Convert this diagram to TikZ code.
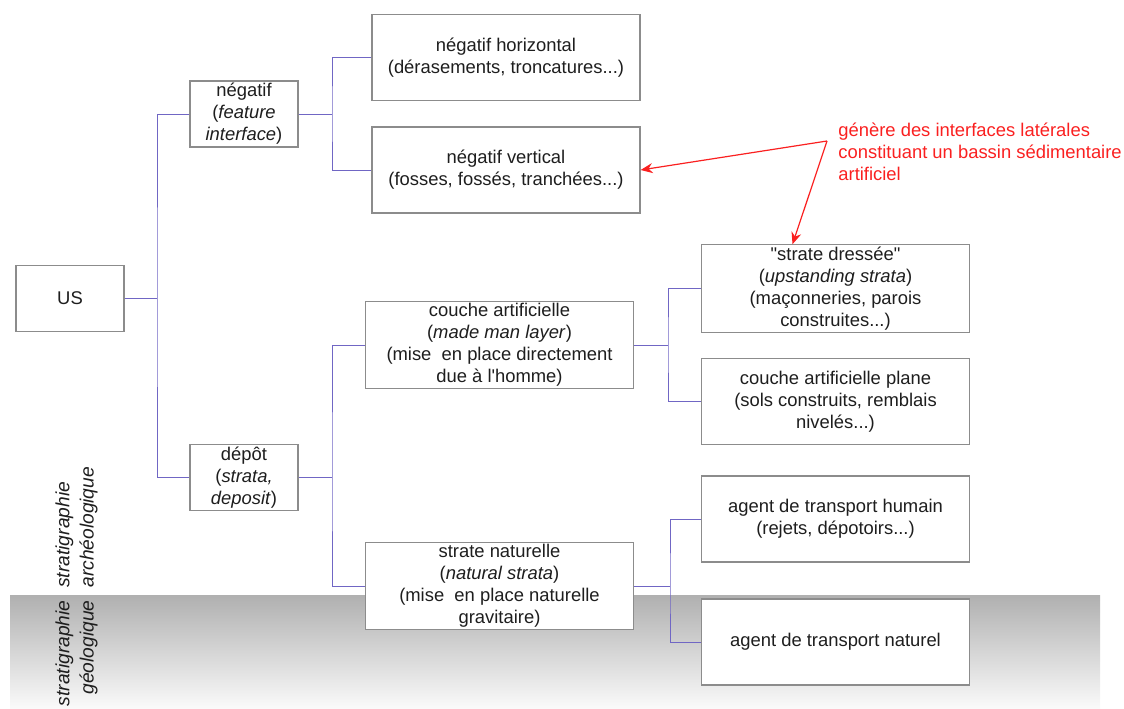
\documentclass[tikz,border=0pt]{standalone}
\usepackage{fontspec}
\setmainfont{Liberation Sans}
\usetikzlibrary{arrows.meta}
\definecolor{linkblue}{RGB}{112,102,196}
\definecolor{boxgray}{RGB}{140,140,140}
\definecolor{notered}{RGB}{250,32,32}
\definecolor{textgray}{RGB}{30,30,30}
\tikzstyle{smallbox} = [rectangle,
                        minimum width=54pt,
                        minimum height=33pt,
                        inner sep=1pt,
                        align=center,
                        draw=boxgray,
                        line width=0.6pt,
                        fill=white]
\tikzstyle{bigbox} = [rectangle,
                      minimum width=134pt,
                      minimum height=43pt,
                      inner sep=1pt,
                      align=center,
                      draw=boxgray,
                      line width=0.6pt,
                      fill=white]
\tikzstyle{link} = [draw=linkblue,
                    line width=0.5pt]
\tikzstyle{note} = [text=notered,
                    align=left,
                    anchor=north west,
                    inner sep=0pt]
\tikzstyle{arrow} = [draw=notered,
                     line width=0.6pt,
                     -{Stealth[length=6pt,width=5pt]}]
\tikzstyle{sidelabel} = [rotate=90,
                         font=\fontsize{9.6}{12.2}\selectfont\itshape,
                         inner sep=0pt]

\begin{document}
\begin{tikzpicture}[x=0.5pt, y=-0.5pt, font=\fontsize{9.2}{11}\selectfont, text=textgray]
    \useasboundingbox (0,0) rectangle (1124,708);
    \shade [top color=gray!62, middle color=gray!14, bottom color=gray!4] (10,595) rectangle (1100,708);

    \node (us)      [smallbox] at (70,298.5)   {US};
    \node (neg)     [smallbox] at (244,114)    {négatif\\(\textit{feature}\\\textit{interface})};
    \node (dep)     [smallbox] at (244,477.5)  {dépôt\\(\textit{strata,}\\\textit{deposit})};
    \node (neghor)  [bigbox]   at (506,57.5)   {négatif horizontal\\(dérasements, troncatures...)};
    \node (negver)  [bigbox]   at (506,170)    {négatif vertical\\(fosses, fossés, tranchées...)};
    \node (couche)  [bigbox]   at (499.5,345)  {couche artificielle\\(\textit{made man layer})\\(mise~ en place directement\\due à l\textquotesingle homme)};
    \node (strnat)  [bigbox]   at (499.5,586)  {strate naturelle\\(\textit{natural strata})\\(mise~ en place naturelle\\gravitaire)};
    \node (dresse)  [bigbox]   at (835.5,288.5) {\textquotedbl strate dressée\textquotedbl\\(\textit{upstanding strata})\\(maçonneries, parois\\construites...)};
    \node (plane)   [bigbox]   at (835.5,401.5) {couche artificielle plane\\(sols construits, remblais\\nivelés...)};
    \node (humain)  [bigbox]   at (835.5,519)  {agent de transport humain\\(rejets, dépotoirs...)};
    \node (naturel) [bigbox]   at (835.5,642)  {agent de transport naturel};

    \node (note) [note] at (838,123) {génère des interfaces latérales\\constituant un bassin sédimentaire\\artificiel};
    \node (arch) [sidelabel, anchor=north west, align=left]  at (55,588) {stratigraphie\\archéologique};
    \node (geol) [sidelabel, anchor=north east, align=right] at (55,600) {stratigraphie\\géologique};

    \coordinate (fork0) at (157,298.5);
    \coordinate (fork1) at (332,114);
    \coordinate (fork2) at (332,477.5);
    \coordinate (fork3) at (668,345);
    \coordinate (fork4) at (670,586);
    \coordinate (notefork) at (827,141);

    \draw [link] (us) -- (fork0);
    \draw [link] (neg) -| (fork0) |- (dep);
    \draw [link] (neg) -- (fork1);
    \draw [link] (neghor) -| (fork1) |- (negver);
    \draw [link] (dep) -- (fork2);
    \draw [link] (couche) -| (fork2) |- (strnat);
    \draw [link] (couche) -- (fork3);
    \draw [link] (dresse) -| (fork3) |- (plane);
    \draw [link] (strnat) -- (fork4);
    \draw [link] (humain) -| (fork4) |- (naturel);

    \draw [arrow] (notefork) -- (negver.east);
    \draw [arrow] (notefork) -- ([xshift=-21.5pt]dresse.north);
\end{tikzpicture}
\end{document}
